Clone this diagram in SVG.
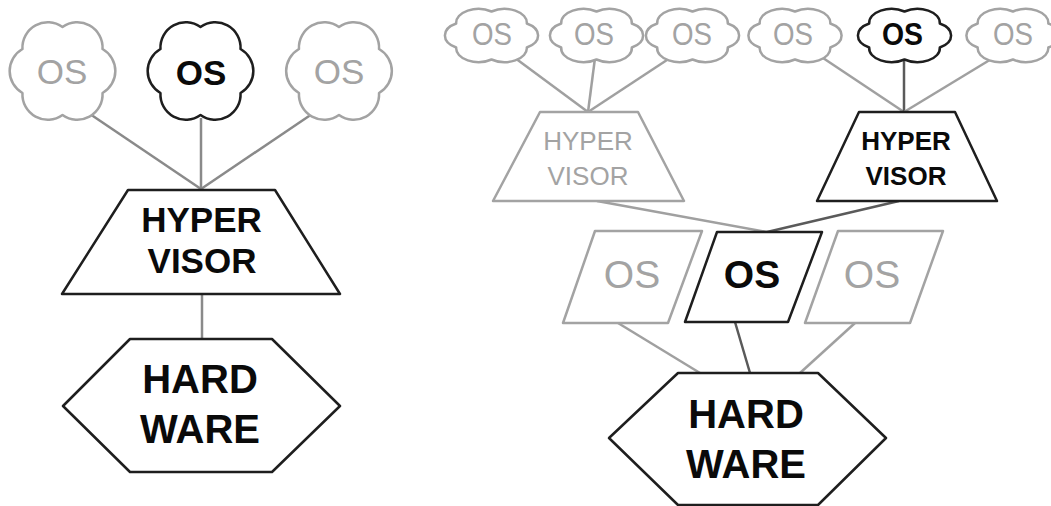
<svg xmlns="http://www.w3.org/2000/svg" xmlns:xlink="http://www.w3.org/1999/xlink" width="1051" height="506" viewBox="0 0 1051 506">
<style>
.bg{fill:#fff}
.sg{fill:#fff;stroke:#a3a3a3;stroke-width:2.5;stroke-linejoin:round}
.sk{fill:#fff;stroke:#1e1e1e;stroke-width:2.5;stroke-linejoin:round}
.cg{fill:none;stroke:#a0a0a0;stroke-width:2.5}
.ck{fill:none;stroke:#5a5a5a;stroke-width:2.5}
.cm{fill:none;stroke:#8a8a8a;stroke-width:2.5}
text{font-family:"Liberation Sans",Arial,sans-serif;text-anchor:middle}
.tg{fill:#a3a3a3;font-weight:normal}
.tk{fill:#0a0a0a;font-weight:bold}
</style>
<defs>
<path id="cloud" vector-effect="non-scaling-stroke" d="M0,-40 A23,23 0 0 1 36.4,-20 A23,23 0 0 1 36.4,20 A23,23 0 0 1 0,40 A23,23 0 0 1 -36.4,20 A23,23 0 0 1 -36.4,-20 A23,23 0 0 1 0,-40 Z"/>
</defs>
<rect class="bg" x="0" y="0" width="1051" height="506"/>
<g id="connectors">
<line class="cm" x1="87" y1="112" x2="201" y2="189"/>
<line class="cm" x1="201" y1="118" x2="201" y2="189"/>
<line class="cm" x1="315" y1="112" x2="201" y2="189"/>
<line class="cm" x1="202" y1="294" x2="202" y2="339"/>
<line class="cg" x1="515" y1="58" x2="588" y2="112"/>
<line class="cg" x1="595" y1="58" x2="588" y2="112"/>
<line class="cg" x1="670" y1="58" x2="588" y2="112"/>
<line class="cg" x1="823" y1="58" x2="904" y2="112"/>
<line class="ck" x1="904" y1="60" x2="904" y2="112"/>
<line class="cg" x1="993" y1="58" x2="904" y2="112"/>
<line class="cg" x1="597" y1="201" x2="767" y2="232"/>
<line class="ck" x1="899" y1="201" x2="767" y2="232"/>
<line class="cg" x1="618" y1="323" x2="700" y2="373"/>
<line class="ck" x1="735" y1="322" x2="750" y2="373"/>
<line class="cg" x1="855" y1="323" x2="800" y2="373"/>
</g>
<g id="l-os1"><use xlink:href="#cloud" class="sg" transform="translate(62.5,71) scale(1.1,1.1)"/><text class="tg" x="62" y="84" font-size="35">OS</text></g>
<g id="l-os2"><use xlink:href="#cloud" class="sk" transform="translate(200.5,71) scale(1.1,1.1)"/><text class="tk" x="201" y="85" font-size="35">OS</text></g>
<g id="l-os3"><use xlink:href="#cloud" class="sg" transform="translate(339,71) scale(1.1,1.1)"/><text class="tg" x="339" y="84" font-size="35">OS</text></g>
<g id="l-hyper"><polygon class="sk" points="128,190 275,190 340,294 62,294"/><text class="tk" x="201.5" y="232" font-size="35">HYPER</text><text class="tk" x="202" y="273" font-size="35">VISOR</text></g>
<g id="l-hard"><polygon class="sk" points="130,339 272,339 340,406 272,472 130,472 63,406"/><text class="tk" x="200" y="393" font-size="40">HARD</text><text class="tk" x="200" y="443" font-size="40">WARE</text></g>
<g id="r-os1"><use xlink:href="#cloud" class="sg" transform="translate(491.5,35.5) scale(0.97,0.6)"/><text class="tg" x="492" y="45" font-size="32" textLength="40" lengthAdjust="spacingAndGlyphs">OS</text></g>
<g id="r-os2"><use xlink:href="#cloud" class="sg" transform="translate(596.5,35.5) scale(0.97,0.6)"/><text class="tg" x="594" y="45" font-size="32" textLength="40" lengthAdjust="spacingAndGlyphs">OS</text></g>
<g id="r-os3"><use xlink:href="#cloud" class="sg" transform="translate(692.5,35.5) scale(0.97,0.6)"/><text class="tg" x="692" y="45" font-size="32" textLength="40" lengthAdjust="spacingAndGlyphs">OS</text></g>
<g id="r-os4"><use xlink:href="#cloud" class="sg" transform="translate(795,35.5) scale(0.97,0.6)"/><text class="tg" x="793" y="45" font-size="32" textLength="40" lengthAdjust="spacingAndGlyphs">OS</text></g>
<g id="r-os5"><use xlink:href="#cloud" class="sk" transform="translate(904.5,35.5) scale(0.97,0.6)"/><text class="tk" x="902.5" y="45" font-size="32" textLength="41" lengthAdjust="spacingAndGlyphs">OS</text></g>
<g id="r-os6"><use xlink:href="#cloud" class="sg" transform="translate(1013,35.5) scale(0.97,0.6)"/><text class="tg" x="1013" y="45" font-size="32" textLength="40" lengthAdjust="spacingAndGlyphs">OS</text></g>
<g id="r-hyper1"><polygon class="sg" points="540,112 638,112 684,201 493,201"/><text class="tg" x="588" y="150" font-size="26">HYPER</text><text class="tg" x="588" y="185" font-size="26">VISOR</text></g>
<g id="r-hyper2"><polygon class="sk" points="859,112 955,112 997,201 817,201"/><text class="tk" x="906" y="150" font-size="26">HYPER</text><text class="tk" x="906" y="185" font-size="26">VISOR</text></g>
<g id="r-vm1"><polygon class="sg" points="595,231 702,231 668,323 563,323"/><text class="tg" x="632" y="288" font-size="39">OS</text></g>
<g id="r-vm2"><polygon class="sk" points="717,232 822,232 788,322 685,322"/><text class="tk" x="752" y="288" font-size="39">OS</text></g>
<g id="r-vm3"><polygon class="sg" points="838,231 943,231 910,323 805,323"/><text class="tg" x="872" y="288" font-size="39">OS</text></g>
<g id="r-hard"><polygon class="sk" points="678,373 818,373 886,438 818,505 678,505 609,438"/><text class="tk" x="746" y="428" font-size="40">HARD</text><text class="tk" x="746" y="478" font-size="40">WARE</text></g>
</svg>
